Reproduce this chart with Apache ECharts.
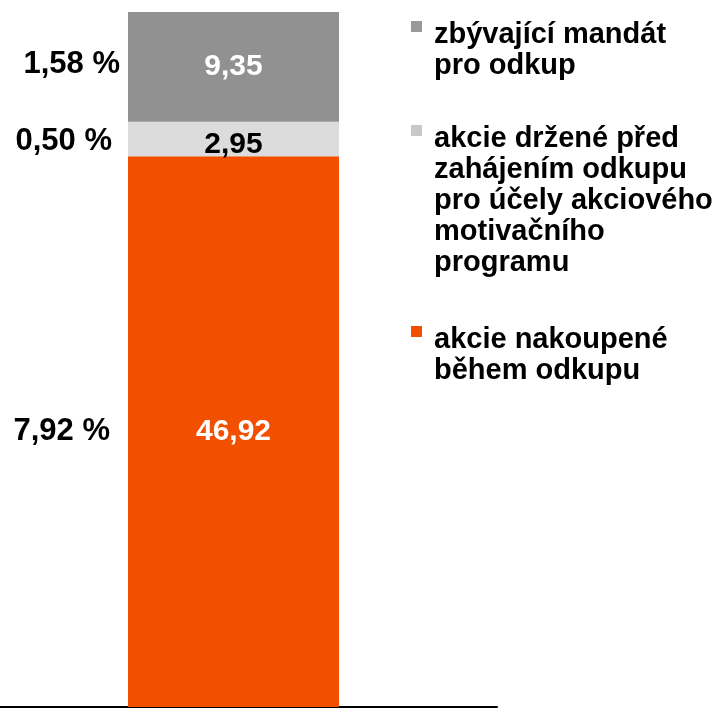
<!DOCTYPE html>
<html>
<head>
<meta charset="utf-8">
<script src="https://cdn.jsdelivr.net/npm/echarts@6/dist/echarts.min.js"></script>
<style>
  html, body { margin: 0; padding: 0; background: #fff; }
  #main { width: 717px; height: 710px; }
</style>
</head>
<body>
<div id="main"></div>
<script>
// data
var categories = ['odkup'];
var seriesNames = [
  'akcie nakoupené\nběhem odkupu',
  'akcie držené před\nzahájením odkupu\npro účely akciového\nmotivačního\nprogramu',
  'zbývající mandát\npro odkup'
];
var bought = [46.92];
var held = [2.95];
var remaining = [9.35];
var boughtPct = ['7,92 %'];
var heldPct = ['0,50 %'];
var remainingPct = ['1,58 %'];

var colors = ['#f24f00', '#dcdcdc', '#919191'];
var markerColors = ['#f24f00', '#c8c8c8', '#999999'];
var font = 'Liberation Sans, Arial, sans-serif';

var total = bought[0] + held[0] + remaining[0];

function fmt(v) { return v.toFixed(2).replace('.', ','); }

function valueSeries(name, data, color, labelColor, offsetY) {
  return {
    name: name, type: 'bar', stack: 'v', data: data,
    barWidth: 211, barGap: '-100%',
    itemStyle: { color: color },
    label: {
      show: true, position: 'inside', offset: [0, offsetY],
      color: labelColor, fontFamily: font, fontWeight: 'bold', fontSize: 30,
      formatter: function (p) { return fmt(p.value); }
    }
  };
}

function pctSeries(data, pct, dist, offsetY) {
  return {
    type: 'bar', stack: 'p', data: data,
    barWidth: 211, barGap: '-100%',
    itemStyle: { color: 'rgba(0,0,0,0)' },
    label: {
      show: true, position: 'left', distance: dist, offset: [0, offsetY],
      color: '#000', fontFamily: font, fontWeight: 'bold', fontSize: 31,
      formatter: function () { return pct[0]; }
    },
    silent: true
  };
}

// legend drawn as graphic so the marker sits at the first line
var legendTops = [324, 123, 19];
var legendGraphic = [];
seriesNames.forEach(function (n, i) {
  legendGraphic.push({
    type: 'rect', left: 411, top: legendTops[i] + 2,
    shape: { width: 11, height: 11 },
    style: { fill: markerColors[i] }
  });
  legendGraphic.push({
    type: 'text', left: 434, top: legendTops[i],
    style: {
      text: n, fill: '#000', font: 'bold 29px ' + font,
      lineHeight: 31
    }
  });
});

var chart = echarts.init(document.getElementById('main'));
chart.setOption({
  animation: false,
  grid: [
    { left: 0, right: 250, top: 12, bottom: 3 },
    { left: 0, right: 220, top: 12, bottom: 3 }
  ],
  xAxis: [
    {
      type: 'category', data: categories, gridIndex: 0,
      axisLine: { show: false }, axisTick: { show: false }, axisLabel: { show: false }
    },
    {
      type: 'category', data: categories, gridIndex: 1,
      axisLine: { show: true, lineStyle: { color: '#000', width: 2 } },
      axisTick: { show: false }, axisLabel: { show: false }
    }
  ],
  yAxis: [
    { type: 'value', min: 0, max: total, show: false, gridIndex: 0 },
    { type: 'value', min: 0, max: total, show: false, gridIndex: 1 }
  ],
  graphic: legendGraphic,
  series: [
    valueSeries(seriesNames[0], bought, colors[0], '#fff', 0),
    valueSeries(seriesNames[1], held, colors[1], '#000', 6),
    valueSeries(seriesNames[2], remaining, colors[2], '#fff', 0),
    pctSeries(bought, boughtPct, 18, 0),
    pctSeries(held, heldPct, 16, 2),
    pctSeries(remaining, remainingPct, 8, -2)
  ]
});
</script>
</body>
</html>
